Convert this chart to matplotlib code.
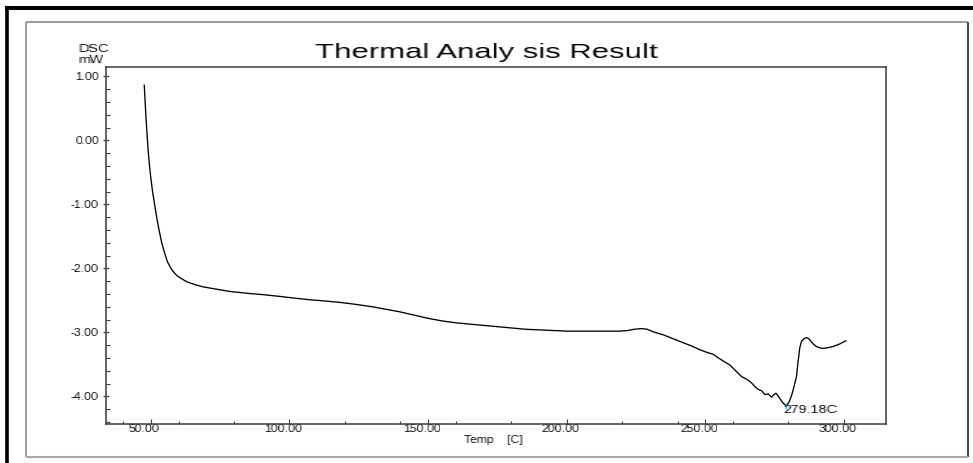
import numpy as np
import matplotlib
matplotlib.use("Agg")
import matplotlib.pyplot as plt
from matplotlib.lines import Line2D
from matplotlib.transforms import ScaledTranslation

# DSC trace: temperature [C] and heat flow [mW]
temp_c = [47.6, 48.1, 48.6, 49.0, 49.5, 50.0, 50.6, 51.3, 52.0, 52.8,
          53.8, 54.8, 56.0, 57.5, 59.3, 61.0, 63.0, 66.0, 69.0, 73.0,
          78.5, 85.0, 90.5, 97.0, 103.0, 107.4, 113.0, 118.0, 123.6, 130.0,
          135.0, 140.0, 145.0, 150.0, 155.0, 160.0, 165.0, 170.0, 175.0, 180.0,
          185.0, 190.0, 195.0, 200.0, 205.0, 210.0, 215.0, 219.2, 222.0, 224.5,
          227.0, 229.0, 231.2, 235.0, 238.5, 242.0, 245.0, 248.0, 250.5, 252.8,
          255.5, 258.9, 261.0, 263.1, 264.9, 266.5, 268.0, 269.1, 270.3, 271.5,
          272.7, 273.9, 274.8, 275.5, 276.3, 276.9, 278.0, 279.18, 280.2, 281.1,
          282.0, 282.9, 283.5, 284.1, 284.7, 285.5, 286.5, 287.4, 288.3, 289.2,
          290.1, 291.3, 292.5, 294.0, 296.1, 298.5, 300.7]
dsc_mw = [0.86, 0.45, 0.10, -0.16, -0.40, -0.60, -0.80, -0.99, -1.18, -1.37,
          -1.58, -1.74, -1.90, -2.02, -2.11, -2.16, -2.21, -2.255, -2.29, -2.32,
          -2.36, -2.39, -2.41, -2.44, -2.47, -2.49, -2.51, -2.53, -2.56, -2.60,
          -2.64, -2.68, -2.73, -2.78, -2.82, -2.85, -2.87, -2.89, -2.91, -2.93,
          -2.95, -2.96, -2.97, -2.98, -2.98, -2.98, -2.98, -2.98, -2.97, -2.95,
          -2.94, -2.95, -2.99, -3.04, -3.10, -3.16, -3.21, -3.27, -3.31, -3.34,
          -3.42, -3.51, -3.60, -3.69, -3.73, -3.78, -3.85, -3.89, -3.91, -3.97,
          -3.96, -4.01, -3.97, -3.95, -3.99, -4.03, -4.10, -4.15, -4.09, -3.99,
          -3.85, -3.69, -3.45, -3.24, -3.14, -3.10, -3.08, -3.10, -3.15, -3.19,
          -3.22, -3.24, -3.25, -3.24, -3.22, -3.18, -3.13]

peak_temp = 279.18
peak_dsc = -4.15
peak_label = "279.18C"

x_major = [50, 100, 150, 200, 250, 300]
x_minor = list(range(40, 301, 20))
y_major = [-4, -3, -2, -1, 0, 1]
y_minor = list(np.round(np.arange(-4.4, 1.15, 0.2), 1))

title_text = "Thermal Analy sis Result"
y_unit_lines = ["DSC", "mW"]
x_title = "Temp    [C]"

W, H, DPI = 973, 463, 100
plt.rcParams['font.family'] = ['Liberation Sans', 'DejaVu Sans']


def fx(px):
    return px / W


def fy(py):
    return 1 - py / H


def stretch(factor, anchor="center", shift=0):
    """Agg filter that widens rendered text horizontally."""
    def _filter(img, dpi):
        h, w = img.shape[:2]
        nw = max(1, int(round(w * factor)))
        src = (np.arange(nw) + 0.5) / factor - 0.5
        src = np.clip(src, 0, w - 1)
        i0 = np.floor(src).astype(int)
        i1 = np.minimum(i0 + 1, w - 1)
        f = (src - i0)[None, :, None]
        out = img[:, i0] * (1 - f) + img[:, i1] * f
        extra = nw - w
        if anchor == "center":
            ox = -extra / 2
        elif anchor == "right":
            ox = -extra
        else:
            ox = 0
        return out, int(round(ox + shift)), 0
    return _filter


fig = plt.figure(figsize=(W / DPI, H / DPI), dpi=DPI)
fig.patch.set_facecolor("white")

ax = fig.add_axes([fx(106), fy(424), fx(886) - fx(106), fy(67) - fy(424)])
ax.plot(temp_c, dsc_mw, color="black", lw=0.95, solid_joinstyle="round")
ax.plot([peak_temp], [peak_dsc], marker="|", ms=4, mew=1.0,
        color="#10c0d0", linestyle="none")

ax.set_xlim(33.8, 315.2)
ax.set_ylim(-4.43, 1.145)

ax.set_xticks(x_major)
ax.set_xticklabels([f"{v:.2f}" for v in x_major])
ax.set_xticks(x_minor, minor=True)
ax.set_yticks(y_major)
ax.set_yticklabels([f"{v:.2f}" for v in y_major])
ax.set_yticks(y_minor, minor=True)

spine_col = "#3c3c3c"
for s in ax.spines.values():
    s.set_color(spine_col)
    s.set_linewidth(1.1)

ax.tick_params(axis="y", which="major", direction="inout", length=4.8,
               width=0.8, pad=2.6, labelsize=6.9, colors=spine_col,
               labelcolor="black")
ax.tick_params(axis="y", which="minor", direction="in", length=2.9,
               width=0.8, colors=spine_col)
ax.tick_params(axis="x", which="major", direction="in", length=3.6,
               width=0.8, pad=0.0, labelsize=6.9, colors=spine_col,
               labelcolor="black")
ax.tick_params(axis="x", which="minor", direction="in", length=2.2,
               width=0.8, colors=spine_col)

shift = ScaledTranslation(-6 / DPI, 0, fig.dpi_scale_trans)
for lab in ax.get_xticklabels():
    lab.set_transform(lab.get_transform() + shift)
    lab.set_agg_filter(stretch(1.30, "center"))
for lab in ax.get_yticklabels():
    lab.set_agg_filter(stretch(1.28, "right"))

# peak label, just below and to the right of the minimum
peak_off = ScaledTranslation(-2.3 / DPI, 1.5 / DPI, fig.dpi_scale_trans)
pk = ax.text(peak_temp, peak_dsc, peak_label, ha="left", va="top",
             fontsize=7.3, color="black", transform=ax.transData + peak_off)
pk.set_agg_filter(stretch(1.42, "left"))

# title and axis captions
t = fig.text(fx(486), fy(58), title_text, ha="center", va="baseline",
             fontsize=15.0, color="black")
t.set_agg_filter(stretch(1.49, "center"))

for txt, ypx in zip(y_unit_lines, [49, 60]):
    u = fig.text(fx(78), fy(ypx), txt, ha="left", va="center",
                 fontsize=6.9, color="black")
    u.set_agg_filter(stretch(1.52, "left"))

xl = fig.text(fx(493), fy(440), x_title, ha="center", va="center",
              fontsize=6.9, color="black")
xl.set_agg_filter(stretch(1.28, "center"))

# outer window frame
frame = [
    ([5, 973], [8, 8], "black", 2.9),
    ([6.5, 6.5], [6, 463], "black", 2.6),
    ([26, 968], [22, 22], "#8a8a8a", 1.2),
    ([26, 26], [22, 457], "#8a8a8a", 1.2),
    ([968, 968], [22, 457], "#4a4a4a", 1.5),
    ([26, 968], [457, 457], "#a8a8a8", 1.5),
]
for xs, ys, col, lw in frame:
    fig.add_artist(Line2D([fx(v) for v in xs], [fy(v) for v in ys],
                          transform=fig.transFigure, color=col, lw=lw,
                          solid_capstyle="butt"))

fig.savefig("out.png", dpi=DPI, facecolor="white")
